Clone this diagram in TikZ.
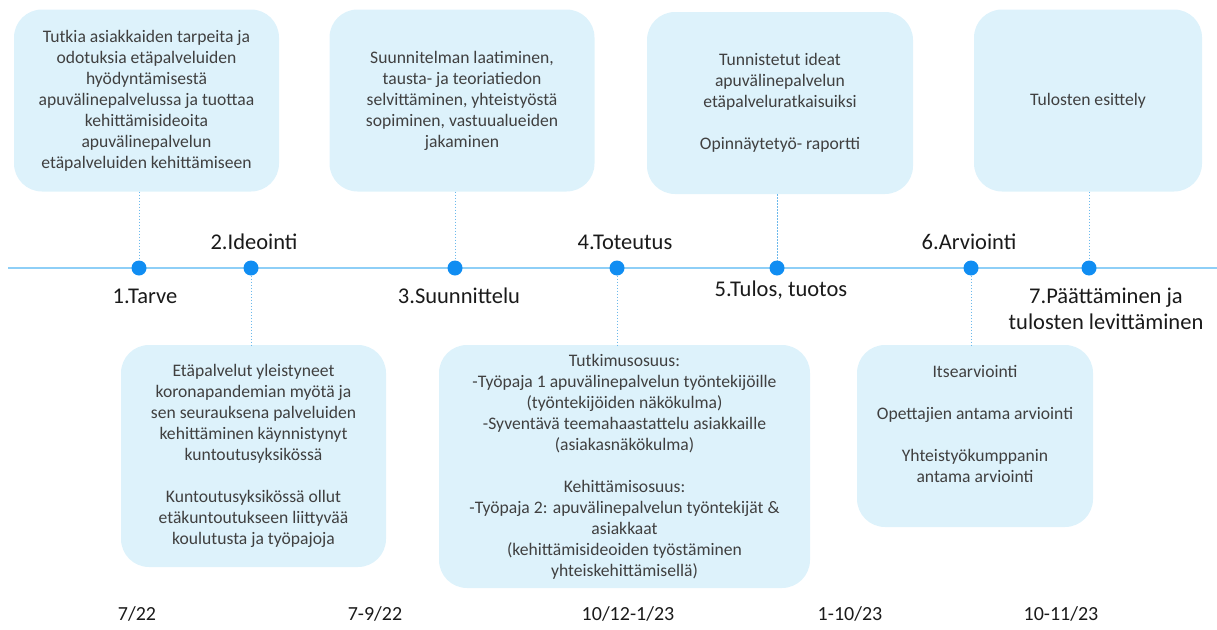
\documentclass[tikz,border=0pt]{standalone}
\usepackage{fontspec}
\setmainfont{Carlito}
\definecolor{boxfill}{HTML}{DDF2FB}
\definecolor{boxtext}{HTML}{404040}
\definecolor{dotblue}{HTML}{108DF2}
\definecolor{lineblue}{HTML}{8ECFF7}
\definecolor{connblue}{HTML}{6CB9EC}
\definecolor{labtext}{HTML}{1A1A1A}
\begin{document}
\begin{tikzpicture}[x=1pt,y=-1pt,
  box/.style={fill=boxfill, rounded corners=28pt, align=center, text=boxtext,
    font=\fontsize{17.6}{21}\selectfont, inner sep=0pt},
  dot/.style={circle, fill=dotblue, minimum size=15pt, inner sep=0pt},
  tline/.style={draw=lineblue, line width=1.8pt},
  conn/.style={draw=connblue, line width=0.8pt, dash pattern=on 1.5pt off 1.5pt},
  lab/.style={font=\fontsize{22.5}{26}\selectfont, text=labtext, align=center, inner sep=0pt},
  datelab/.style={font=\fontsize{20}{25}\selectfont, text=labtext, inner sep=0pt}]
\useasboundingbox (0,0) rectangle (1217,629);

% timeline
\coordinate (tlL) at (8,268);
\coordinate (tlR) at (1217,268);
\draw[tline] (tlL) -- (tlR);

% top boxes
\node[box, minimum width=265, minimum height=182] (b1) at (146.5,100.5)
  {Tutkia asiakkaiden tarpeita ja\\odotuksia etäpalveluiden\\hyödyntämisestä\\apuvälinepalvelussa ja tuottaa\\kehittämisideoita\\apuvälinepalvelun\\etäpalveluiden kehittämiseen};
\node[box, minimum width=265, minimum height=182] (b2) at (462,100.5)
  {Suunnitelman laatiminen,\\tausta- ja teoriatiedon\\selvittäminen, yhteistyöstä\\sopiminen, vastuualueiden\\jakaminen};
\node[box, minimum width=266, minimum height=182] (b3) at (780,103)
  {Tunnistetut ideat\\apuvälinepalvelun\\etäpalveluratkaisuiksi\\[21pt]Opinnäytetyö- raportti};
\node[box, minimum width=228, minimum height=182] (b4) at (1088,100.5)
  {Tulosten esittely};

% bottom boxes
\node[box, minimum width=265, minimum height=222] (b5) at (253.5,456)
  {Etäpalvelut yleistyneet\\koronapandemian myötä ja\\sen seurauksena palveluiden\\kehittäminen käynnistynyt\\kuntoutusyksikössä\\[21pt]Kuntoutusyksikössä ollut\\etäkuntoutukseen liittyvää\\koulutusta ja työpajoja};
\node[box, minimum width=371, minimum height=243] (b6) at (624.5,466.5)
  {Tutkimusosuus:\\-Työpaja 1 apuvälinepalvelun työntekijöille\\(työntekijöiden näkökulma)\\-Syventävä teemahaastattelu asiakkaille\\(asiakasnäkökulma)\\[21pt]Kehittämisosuus:\\-Työpaja 2: apuvälinepalvelun työntekijät \&\\asiakkaat\\(kehittämisideoiden työstäminen\\yhteiskehittämisellä)};
\node[box, minimum width=236, minimum height=182] (b7) at (975,436) {};
\node[box, fill=none, anchor=north] (b7t) at (975,365)
  {Itsearviointi\\[21pt]Opettajien antama arviointi\\[21pt]Yhteistyökumppanin\\antama arviointi};

% dots
\node[dot] (d1) at (139,268) {};
\node[dot] (d2) at (251,268) {};
\node[dot] (d3) at (455,268) {};
\node[dot] (d4) at (617,268) {};
\node[dot] (d5) at (777,268) {};
\node[dot] (d6) at (971,268) {};
\node[dot] (d7) at (1089,268) {};

% connectors
\draw[conn] (b1.south -| d1) -- (d1);
\draw[conn] (b2.south -| d3) -- (d3);
\draw[conn] (b3.south -| d5) -- (d5);
\draw[conn] (b4.south -| d7) -- (d7);
\draw[conn] (d2) -- (b5.north -| d2);
\draw[conn] (d4) -- (b6.north -| d4);
\draw[conn] (d6) -- (b7.north -| d6);

% phase labels
\node[lab] (l1) at (145,296) {1.Tarve};
\node[lab] (l2) at (254,242) {2.Ideointi};
\node[lab] (l3) at (459,296) {3.Suunnittelu};
\node[lab] (l4) at (625,242) {4.Toteutus};
\node[lab] (l5) at (781,290) {5.Tulos, tuotos};
\node[lab] (l6) at (969,242) {6.Arviointi};
\node[lab] (l7) at (1106,309) {7.Päättäminen ja\\tulosten levittäminen};

% dates
\node[datelab] (t1) at (137,614) {7/22};
\node[datelab] (t2) at (375,614) {7-9/22};
\node[datelab] (t3) at (628,614) {10/12-1/23};
\node[datelab] (t4) at (850,614) {1-10/23};
\node[datelab] (t5) at (1061,614) {10-11/23};
\end{tikzpicture}
\end{document}
